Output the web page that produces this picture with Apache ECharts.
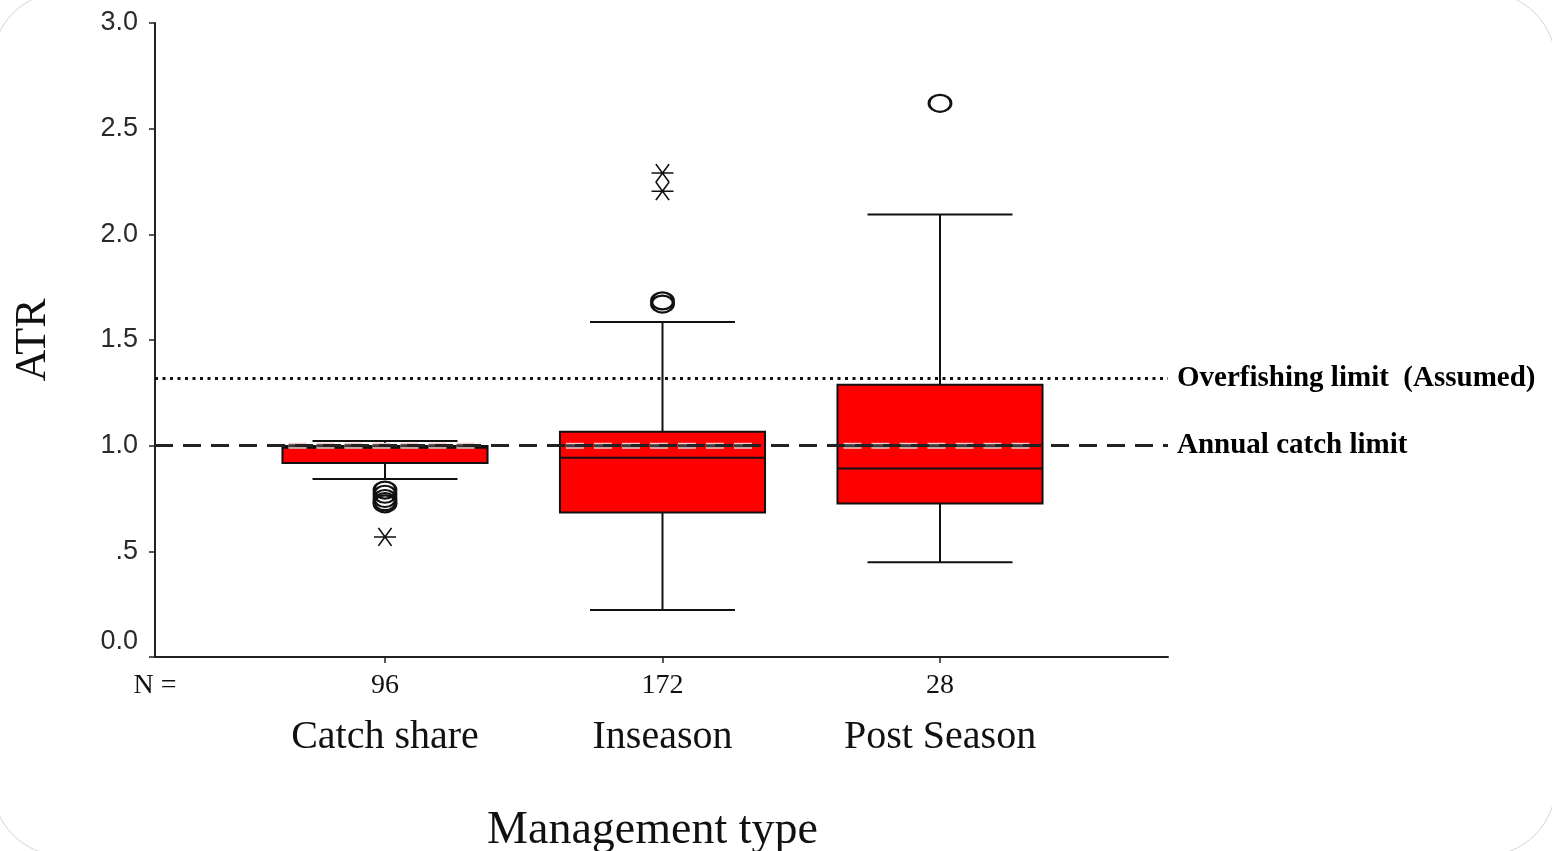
<!DOCTYPE html>
<html>
<head>
<meta charset="utf-8">
<script src="https://cdn.jsdelivr.net/npm/echarts@6/dist/echarts.min.js"></script>
<style>
  html, body { margin: 0; padding: 0; background: #fff; }
  #chart { width: 1552px; height: 851px; }
</style>
</head>
<body>
<div id="chart"></div>
<script>
// ---- data ----
const categories = ['Catch share', 'Inseason', 'Post Season'];
const counts = [96, 172, 28];
// [lower whisker, Q1, median, Q3, upper whisker]
const lowerWhisker = [0.842, 0.222, 0.448];
const q1Values = [0.918, 0.684, 0.726];
const medianValues = [0.99, 0.943, 0.892];
const q3Values = [0.998, 1.066, 1.288];
const upperWhisker = [1.022, 1.585, 2.094];
// outliers: [category index (1-based), value]
const circleOutliers = [[1, 0.79], [1, 0.77], [1, 0.75], [1, 0.735], [1, 0.725], [2, 1.67], [2, 1.685], [3, 2.62]];
const starOutliers = [[1, 0.568], [2, 2.29], [2, 2.204]];
const annualCatchLimit = 1.0;
const overfishingLimit = 1.325;
const yTicks = [0, 0.5, 1, 1.5, 2, 2.5, 3];
const yTickLabels = ['0.0', '.5', '1.0', '1.5', '2.0', '2.5', '3.0'];

// ---- layout constants ----
const X_MIN = 0.1712, X_MAX = 3.8216;
const BOX_W = 0.739, CAP_W = 0.5225;

const boxData = categories.map((c, i) => [i + 1, lowerWhisker[i], q1Values[i], medianValues[i], q3Values[i], upperWhisker[i]]);

function renderBox(params, api) {
  const x = api.value(0);
  const pLow = api.coord([x, api.value(1)]);
  const pQ1 = api.coord([x, api.value(2)]);
  const pMed = api.coord([x, api.value(3)]);
  const pQ3 = api.coord([x, api.value(4)]);
  const pHigh = api.coord([x, api.value(5)]);
  const half = api.size([BOX_W, 0])[0] / 2;
  const capHalf = api.size([CAP_W, 0])[0] / 2;
  const cx = pQ1[0];
  const line = { stroke: '#111', lineWidth: 2 };
  const children = [
    { type: 'line', shape: { x1: cx, y1: pQ3[1], x2: cx, y2: pHigh[1] }, style: line },
    { type: 'line', shape: { x1: cx - capHalf, y1: pHigh[1], x2: cx + capHalf, y2: pHigh[1] }, style: line },
    { type: 'line', shape: { x1: cx, y1: pQ1[1], x2: cx, y2: pLow[1] }, style: line },
    { type: 'line', shape: { x1: cx - capHalf, y1: pLow[1], x2: cx + capHalf, y2: pLow[1] }, style: line },
    { type: 'rect', shape: { x: cx - half, y: pQ3[1], width: 2 * half, height: pQ1[1] - pQ3[1] },
      style: { fill: '#ff0000', stroke: '#111', lineWidth: 2 } },
    { type: 'line', shape: { x1: cx - half, y1: pMed[1], x2: cx + half, y2: pMed[1] }, style: line }
  ];
  const yA = api.coord([x, annualCatchLimit])[1];
  if (yA >= pQ3[1] - 4 && yA <= pQ1[1]) {
    children.push({ type: 'line', shape: { x1: cx - half + 6, y1: yA, x2: cx + half - 6, y2: yA },
      style: { stroke: '#f2c8c8', lineWidth: 6, lineDash: [18, 10], lineDashOffset: 0 } });
    children.push({ type: 'line', shape: { x1: cx - half + 6, y1: yA, x2: cx + half - 6, y2: yA },
      style: { stroke: '#3a3a3a', lineWidth: 3, lineDash: [18, 10], lineDashOffset: 0 } });
  }
  return { type: 'group', children };
}

const chart = echarts.init(document.getElementById('chart'), null, { renderer: 'canvas' });
const option = {
  backgroundColor: '#fff',
  animation: false,
  graphic: [{
    type: 'rect', silent: true, z: -10,
    shape: { x: -8, y: -8, width: 1564, height: 864, r: 72 },
    style: { fill: 'none', stroke: '#d4d4d4', lineWidth: 1 }
  }],
  grid: { left: 155, right: 384, top: 23, bottom: 194, outerBoundsMode: 'none', containLabel: false },
  xAxis: {
    type: 'value', min: X_MIN, max: X_MAX,
    name: 'Management type', nameLocation: 'middle', nameGap: 151,
    nameTextStyle: { fontFamily: 'Liberation Serif', fontSize: 46, color: '#111', padding: [0, 18, 0, 0] },
    axisLine: { lineStyle: { color: '#222', width: 2 } },
    axisTick: { show: true, length: 6, customValues: [1, 2, 3], lineStyle: { color: '#222', width: 1.5 } },
    splitLine: { show: false },
    axisLabel: {
      customValues: [X_MIN, 1, 2, 3],
      margin: 10,
      hideOverlap: false,
      formatter: function (v) {
        if (v < 0.5) return '{n|N =}';
        const i = Math.round(v) - 1;
        return '{n|' + counts[i] + '}\n{c|' + categories[i] + '}';
      },
      rich: {
        n: { fontFamily: 'Liberation Serif', fontSize: 28, lineHeight: 38, color: '#111' },
        c: { fontFamily: 'Liberation Serif', fontSize: 40, lineHeight: 64, color: '#111' }
      }
    }
  },
  yAxis: {
    type: 'value', min: 0, max: 3, interval: 0.5,
    name: 'ATR', nameLocation: 'middle', nameGap: 100,
    nameTextStyle: { fontFamily: 'Liberation Serif', fontSize: 44, color: '#111' },
    axisLine: { show: true, lineStyle: { color: '#222', width: 2 } },
    axisTick: { show: true, length: 6, lineStyle: { color: '#222', width: 1.5 } },
    splitLine: { show: false },
    axisLabel: {
      margin: 17,
      fontFamily: 'Liberation Sans', fontSize: 27, color: '#2a2a2a',
      formatter: function (v) {
        const k = yTicks.findIndex(t => Math.abs(t - v) < 1e-6);
        if (k < 0) return '';
        return k === 0 ? '{z|' + yTickLabels[k] + '}' : yTickLabels[k];
      },
      rich: {
        z: { fontFamily: 'Liberation Sans', fontSize: 27, color: '#2a2a2a', padding: [0, 0, 30, 0] }
      }
    }
  },
  series: [
    {
      type: 'line', data: [], z: 1, silent: true,
      markLine: {
        silent: true, symbol: 'none',
        label: {
          position: 'end', distance: 9, color: '#000',
          fontFamily: 'Liberation Serif', fontWeight: 'bold', fontSize: 29
        },
        data: [
          { yAxis: overfishingLimit, lineStyle: { color: '#111', width: 3, type: [3, 4.5] },
            label: { formatter: 'Overfishing limit  (Assumed)' } },
          { yAxis: annualCatchLimit, lineStyle: { color: '#222', width: 3, type: [18, 10] },
            label: { formatter: 'Annual catch limit' } }
        ]
      }
    },
    {
      type: 'custom', z: 2, renderItem: renderBox, data: boxData,
      encode: { x: 0, y: [1, 2, 3, 4, 5] }
    },
    {
      type: 'scatter', z: 3, data: circleOutliers,
      symbol: 'circle', symbolSize: [22, 17],
      itemStyle: { color: 'rgba(0,0,0,0)', borderColor: '#111', borderWidth: 2.5, opacity: 1 }
    },
    {
      type: 'scatter', z: 3, data: starOutliers,
      symbol: 'path://M-10,0L10,0M-6,-9L6,9M-6,9L6,-9', symbolSize: [22, 18],
      itemStyle: { color: 'rgba(0,0,0,0)', borderColor: '#111', borderWidth: 1.5, opacity: 1 }
    }
  ]
};
chart.setOption(option);
</script>
</body>
</html>
